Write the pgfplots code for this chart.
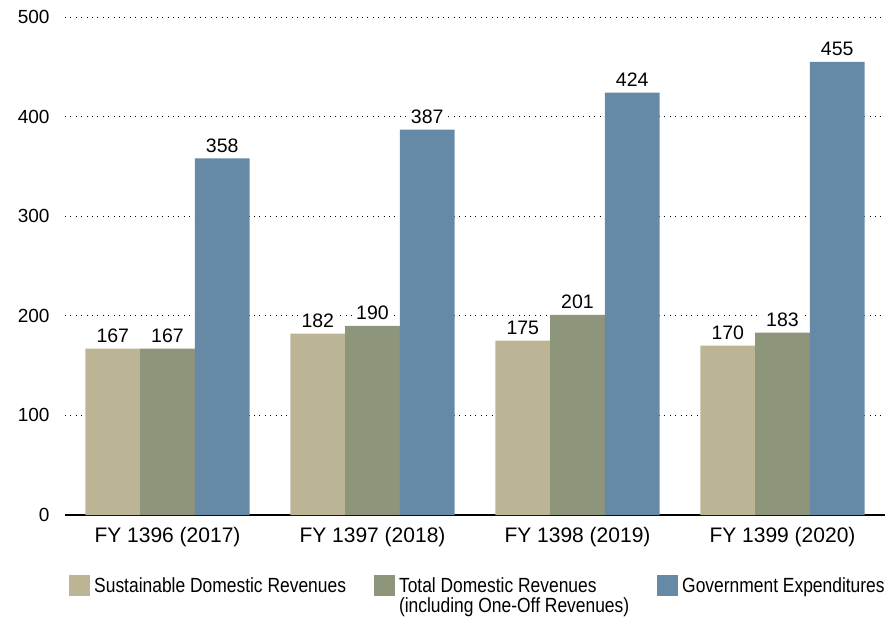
\documentclass[border=0pt]{standalone}
\usepackage{pgfplots}
\pgfplotsset{compat=1.18}
\usepackage{fontspec}
\setmainfont{Liberation Sans}
\newfontfamily\condensed{Liberation Sans}[FakeStretch=0.85]
\definecolor{cBeige}{RGB}{187,181,150}
\definecolor{cGreen}{RGB}{141,149,122}
\definecolor{cBlue}{RGB}{102,138,165}
\begin{document}
\begin{tikzpicture}
\begin{axis}[
  scale only axis,
  width=820pt, height=498pt,
  xmin=-0.5, xmax=3.5,
  ymin=0, ymax=500,
  ybar=0pt,
  bar width=54.7pt,
  xtick={0,1,2,3},
  xticklabels={FY 1396 (2017),FY 1397 (2018),FY 1398 (2019),FY 1399 (2020)},
  ytick={0,100,200,300,400,500},
  major tick length=0pt,
  axis line style={draw=none},
  ymajorgrids,
  major grid style={black, line width=0.9pt, dash pattern=on 0.9pt off 4.5pt},
  /pgf/number format/assume math mode=true,
  yticklabel style={font=\fontsize{19pt}{21pt}\selectfont, xshift=-12pt},
  xticklabel style={font=\fontsize{21pt}{24pt}\selectfont, yshift=-9pt},
  nodes near coords,
  every node near coord/.append style={font=\fontsize{19.5pt}{22pt}\selectfont, fill=white, inner sep=4pt, yshift=2pt},
  legend style={at={(0,0)}, anchor=north west, xshift=1pt, yshift=-58pt, draw=none,
    font=\condensed\fontsize{20.5pt}{22pt}\selectfont, legend columns=3,
    /tikz/every odd column/.append style={column sep=2pt},
    /tikz/every even column/.append style={column sep=26pt}},
  legend cell align=left,
  legend image code/.code={\fill[#1] (0pt,-10.5pt) rectangle (21pt,10.5pt);},
]
\path (rel axis cs:0,0) coordinate (O);
\draw[black, line width=3pt] (rel axis cs:0,0) -- (rel axis cs:1,0);
\addplot[fill=cBeige, draw=none] coordinates {(0,167) (1,182) (2,175) (3,170)};
\addplot[fill=cGreen, draw=none] coordinates {(0,167) (1,190) (2,201) (3,183)};
\addplot[fill=cBlue, draw=none] coordinates {(0,358) (1,387) (2,424) (3,455)};
\legend{Sustainable Domestic Revenues,{\begin{tabular}[t]{@{}l@{}}Total Domestic Revenues\\[-2pt](including One-Off Revenues)\end{tabular}},Government Expenditures}
\end{axis}
\pgfresetboundingbox
\path ([shift={(-65pt,-104pt)}]O) rectangle ([shift={(829pt,515pt)}]O);
\end{tikzpicture}
\end{document}
